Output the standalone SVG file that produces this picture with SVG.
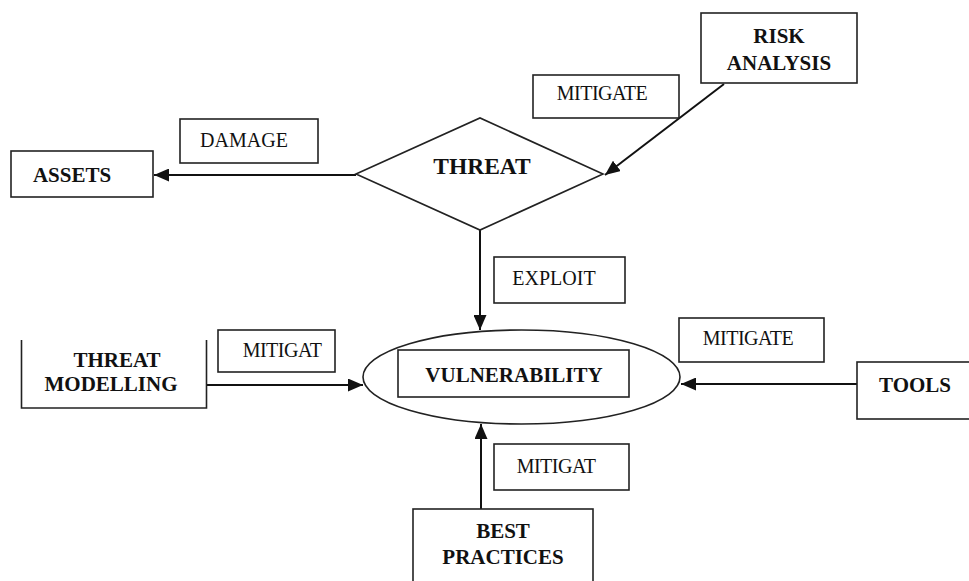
<svg xmlns="http://www.w3.org/2000/svg" width="969" height="581" viewBox="0 0 969 581">
<defs>
<style>
.box{fill:#fff;stroke:#222;stroke-width:1.6}
.open{fill:none;stroke:#222;stroke-width:1.6}
.node{font-family:"Liberation Serif","Times New Roman",serif;font-weight:bold;font-size:21px;fill:#111;text-anchor:middle}
.lbl{font-family:"Liberation Serif","Times New Roman",serif;font-size:20px;fill:#111;text-anchor:middle}
.edge{fill:none;stroke:#111;stroke-width:2}
</style>
<marker id="ah" markerWidth="15" markerHeight="13" refX="15" refY="6.5" orient="auto" markerUnits="userSpaceOnUse">
<path d="M0,0 L15,6.5 L0,13 Z" fill="#111"/>
</marker>
</defs>
<rect width="969" height="581" fill="#fff"/>

<g id="connectors">
<line class="edge" x1="356" y1="175" x2="154" y2="175" marker-end="url(#ah)"/>
<line class="edge" x1="724" y1="84" x2="605" y2="175" marker-end="url(#ah)"/>
<line class="edge" x1="480" y1="230" x2="480" y2="330" marker-end="url(#ah)"/>
<line class="edge" x1="207" y1="385" x2="363" y2="385" marker-end="url(#ah)"/>
<line class="edge" x1="857" y1="384" x2="681" y2="384" marker-end="url(#ah)"/>
<line class="edge" x1="481" y1="509" x2="481" y2="424" marker-end="url(#ah)"/>
</g>

<g id="assets">
<rect class="box" x="11" y="151" width="142" height="46"/>
<text class="node" x="72" y="182">ASSETS</text>
</g>
<g id="label-damage">
<rect class="box" x="180" y="119" width="138" height="44"/>
<text class="lbl" x="244" y="147">DAMAGE</text>
</g>
<g id="threat">
<polygon class="box" points="356,174 480,118 603,174 480,230"/>
<text class="node" x="482" y="174" style="font-size:23.5px">THREAT</text>
</g>
<g id="risk-analysis">
<rect class="box" x="701" y="13" width="156" height="70"/>
<text class="node" x="779" y="43">RISK</text>
<text class="node" x="779" y="70">ANALYSIS</text>
</g>
<g id="label-mitigate-top">
<rect class="box" x="533" y="75" width="146" height="43"/>
<text class="lbl" x="602" y="100" letter-spacing="-0.5">MITIGATE</text>
</g>
<g id="label-exploit">
<rect class="box" x="494" y="257" width="131" height="46"/>
<text class="lbl" x="554" y="285">EXPLOIT</text>
</g>
<g id="threat-modelling">
<path class="open" d="M21.5,340 V408 H206.5 V340"/>
<text class="node" x="117" y="367">THREAT</text>
<text class="node" x="111" y="391">MODELLING</text>
</g>
<g id="label-mitigat-left">
<rect class="box" x="218" y="330" width="117" height="42"/>
<text class="lbl" x="282" y="357" letter-spacing="-0.5">MITIGAT</text>
</g>
<g id="vulnerability">
<ellipse class="box" cx="521.5" cy="377" rx="158.5" ry="47"/>
<rect class="box" x="398" y="350" width="231" height="47"/>
<text class="node" x="514" y="382">VULNERABILITY</text>
</g>
<g id="label-mitigate-right">
<rect class="box" x="679" y="318" width="145" height="44"/>
<text class="lbl" x="748" y="345" letter-spacing="-0.5">MITIGATE</text>
</g>
<g id="tools">
<rect class="box" x="857" y="362" width="120" height="57"/>
<text class="node" x="915" y="392">TOOLS</text>
</g>
<g id="label-mitigat-bottom">
<rect class="box" x="494" y="444" width="135" height="46"/>
<text class="lbl" x="556" y="473" letter-spacing="-0.5">MITIGAT</text>
</g>
<g id="best-practices">
<rect class="box" x="413" y="509" width="180" height="80"/>
<text class="node" x="503" y="538">BEST</text>
<text class="node" x="503" y="564">PRACTICES</text>
</g>
</svg>
